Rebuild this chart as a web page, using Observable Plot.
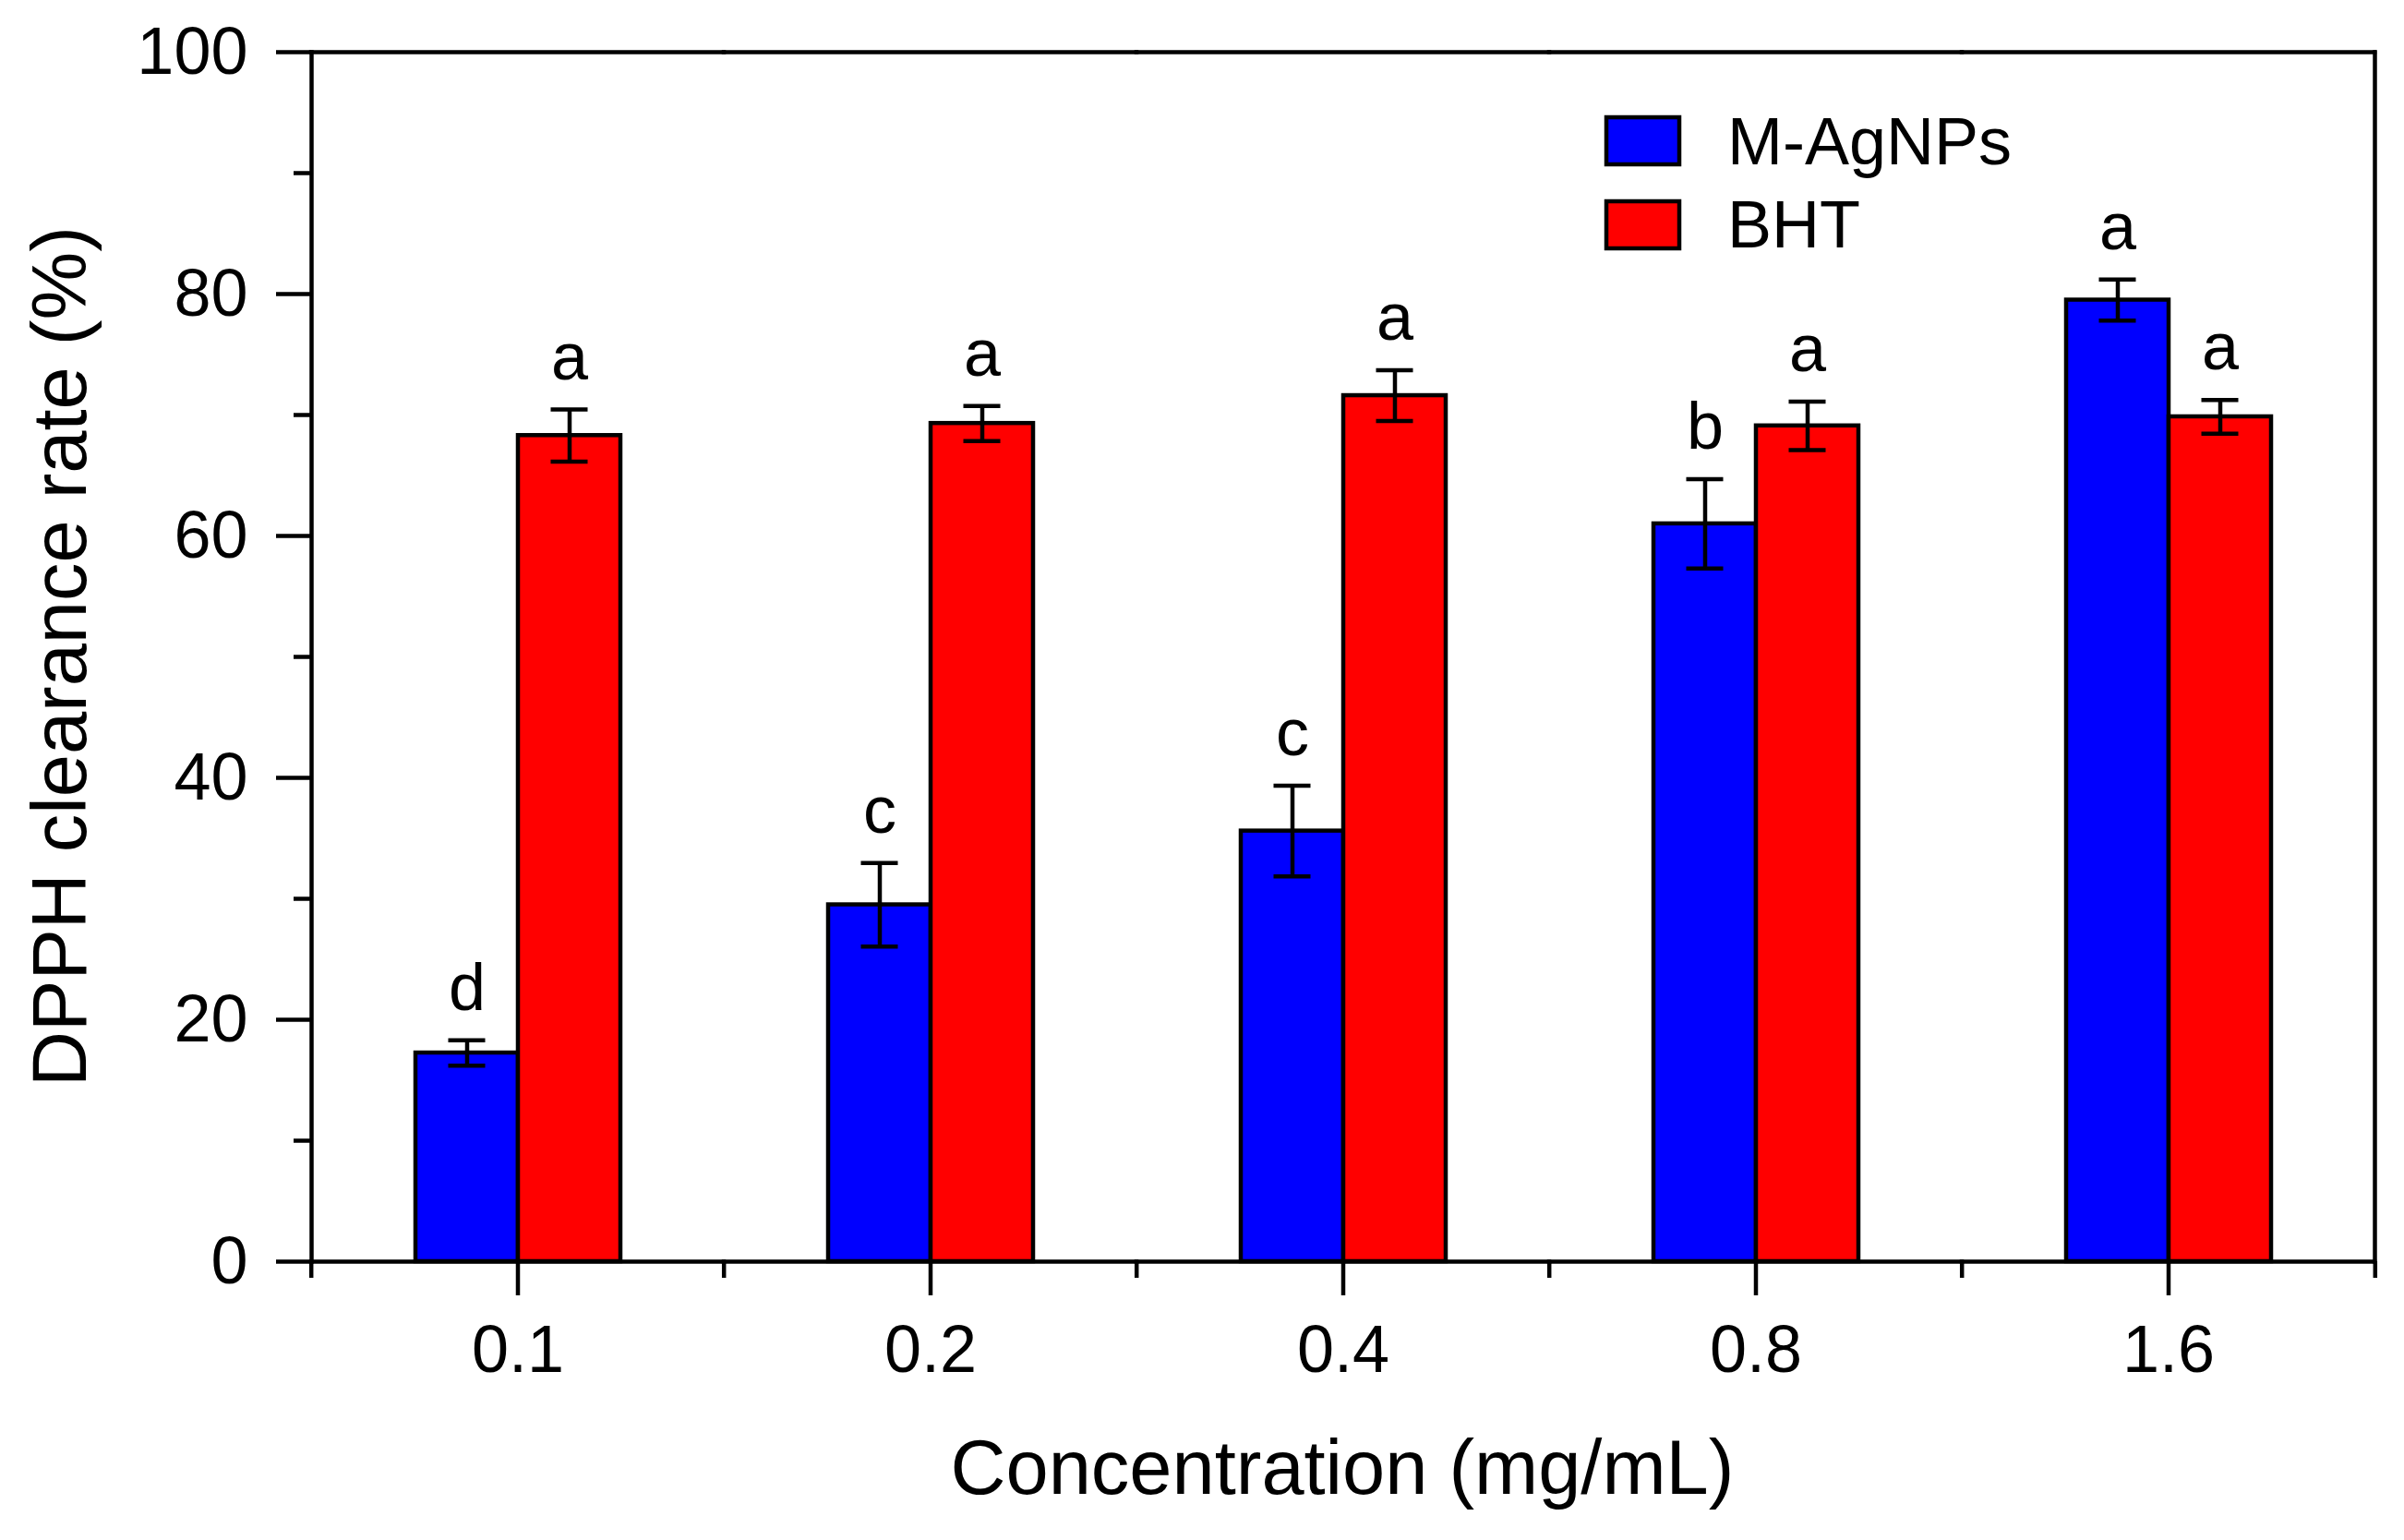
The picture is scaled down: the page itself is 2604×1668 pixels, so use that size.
<!DOCTYPE html>
<html>
<head>
<meta charset="utf-8">
<script src="https://cdn.jsdelivr.net/npm/d3@7"></script>
<script src="https://cdn.jsdelivr.net/npm/@observablehq/plot@0.6"></script>
<style>
  html, body { margin: 0; padding: 0; background: #fff; }
  #wrap { position: relative; width: 2604px; height: 1668px; font-family: "Liberation Sans", Arial, sans-serif; }
  #overlay { position: absolute; left: 0; top: 0; pointer-events: none; }
</style>
</head>
<body>
<div id="wrap"></div>
<script>
// ---- data ----
const concentrations = ["0.1", "0.2", "0.4", "0.8", "1.6"];
const seriesNames = ["M-AgNPs", "BHT"];
const seriesColors = ["#0000ff", "#ff0000"];
const agnpsMean = [17.25, 29.5, 35.6, 61.0, 79.5];
const agnpsSD = [1.05, 3.45, 3.75, 3.7, 1.7];
const agnpsLetters = ["d", "c", "c", "b", "a"];
const bhtMean = [68.3, 69.3, 71.6, 69.1, 69.85];
const bhtSD = [2.15, 1.45, 2.1, 2.0, 1.4];
const bhtLetters = ["a", "a", "a", "a", "a"];
const yMajorTicks = [0, 20, 40, 60, 80, 100];
const yMinorTicks = [10, 30, 50, 70, 90];
const xTitle = "Concentration (mg/mL)";
const yTitle = "DPPH clearance rate (%)";

const rows = [];
concentrations.forEach((c, i) => {
  rows.push({conc: c, series: seriesNames[0], mean: agnpsMean[i], sd: agnpsSD[i], letter: agnpsLetters[i]});
  rows.push({conc: c, series: seriesNames[1], mean: bhtMean[i], sd: bhtSD[i], letter: bhtLetters[i]});
});

// ---- layout ----
const W = 2604, H = 1668;
const mL = 335, mR = 31, mT = 56, mB = 302;
const band = (W - mL - mR) / concentrations.length;
const SW = 4.5;
const FONT = "Liberation Sans, Arial, sans-serif";

const chart = Plot.plot({
  width: W,
  height: H,
  marginLeft: mL,
  marginRight: mR,
  marginTop: mT,
  marginBottom: mB,
  style: {fontFamily: FONT, fontSize: "72px", background: "white", color: "black"},
  fx: {domain: concentrations, padding: 0, label: null},
  x: {domain: seriesNames, paddingInner: 0, paddingOuter: 1, axis: null},
  y: {domain: [0, 100], label: null},
  color: {domain: seriesNames, range: seriesColors},
  marks: [
    Plot.barY(rows, {fx: "conc", x: "series", y: "mean", fill: "series", stroke: "black", strokeWidth: SW}),
    Plot.ruleY([0, 100], {stroke: "black", strokeWidth: SW, strokeLinecap: "square"}),
    Plot.frame({anchor: "left", facetAnchor: "left", stroke: "black", strokeWidth: SW}),
    Plot.frame({anchor: "right", facetAnchor: "right", stroke: "black", strokeWidth: SW}),
    Plot.ruleX(rows, {fx: "conc", x: "series", y1: d => d.mean - d.sd, y2: d => d.mean + d.sd, stroke: "black", strokeWidth: SW}),
    Plot.tickY(rows, {fx: "conc", x: "series", y: d => d.mean - d.sd, insetLeft: 35.5, insetRight: 35.5, stroke: "black", strokeWidth: SW}),
    Plot.tickY(rows, {fx: "conc", x: "series", y: d => d.mean + d.sd, insetLeft: 35.5, insetRight: 35.5, stroke: "black", strokeWidth: SW}),
    Plot.text(rows, {fx: "conc", x: "series", y: d => d.mean + d.sd, text: "letter", dy: -33, lineAnchor: "bottom", fontSize: 72, fill: "black"}),
    Plot.axisY({ticks: yMajorTicks, tickSize: 38, tickPadding: 31, strokeWidth: SW, fontSize: 72, label: null}),
    Plot.axisY({ticks: yMinorTicks, tickSize: 19, tickFormat: () => "", strokeWidth: SW, label: null}),
    Plot.axisFx({anchor: "bottom", tickSize: 37, tickPadding: 31, strokeWidth: SW, fontSize: 72, label: null}),
    Plot.axisFx({anchor: "bottom", tickSize: 18, tickFormat: () => "", strokeWidth: SW, dx: -band / 2, label: null}),
    Plot.axisFx({anchor: "bottom", ticks: [concentrations[concentrations.length - 1]], tickSize: 18, tickFormat: () => "", strokeWidth: SW, dx: band / 2, label: null})
  ]
});

const wrap = document.getElementById("wrap");
wrap.appendChild(chart);

// ---- titles and legend (overlay) ----
const ns = "http://www.w3.org/2000/svg";
const ov = document.createElementNS(ns, "svg");
ov.setAttribute("id", "overlay");
ov.setAttribute("width", W);
ov.setAttribute("height", H);
ov.setAttribute("font-family", FONT);
function addText(txt, attrs) {
  const t = document.createElementNS(ns, "text");
  for (const k in attrs) t.setAttribute(k, attrs[k]);
  t.textContent = txt;
  ov.appendChild(t);
}
addText(xTitle, {x: (mL + W - mR) / 2, y: 1618, "text-anchor": "middle", "font-size": 83, fill: "black"});
addText(yTitle, {transform: `translate(93,${(mT + H - mB) / 2}) rotate(-90)`, "text-anchor": "middle", "font-size": 83, fill: "black"});
seriesNames.forEach((s, i) => {
  const r = document.createElementNS(ns, "rect");
  r.setAttribute("x", 1740);
  r.setAttribute("y", 127 + i * 91);
  r.setAttribute("width", 79);
  r.setAttribute("height", 51);
  r.setAttribute("fill", seriesColors[i]);
  r.setAttribute("stroke", "black");
  r.setAttribute("stroke-width", SW);
  ov.appendChild(r);
  addText(s, {x: 1871, y: 178 + i * 90, "font-size": 72, fill: "black"});
});
wrap.appendChild(ov);
</script>
</body>
</html>
